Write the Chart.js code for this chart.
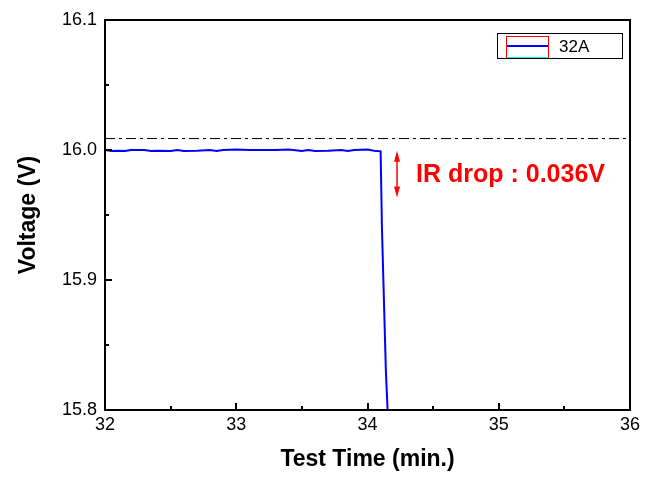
<!DOCTYPE html>
<html>
<head>
<meta charset="utf-8">
<script src="https://cdn.jsdelivr.net/npm/chart.js@4/dist/chart.umd.min.js"></script>
<style>
  html, body { margin: 0; padding: 0; background: #fff; }
  #wrap { width: 653px; height: 479px; position: relative; }
</style>
</head>
<body>
<div id="wrap"><canvas id="irChart"></canvas></div>
<script>
// data
const tiempos = [32.00, 32.05, 32.10, 32.15, 32.20, 32.30, 32.35, 32.40, 32.50, 32.55, 32.60,
  32.70, 32.80, 32.85, 32.90, 33.00, 33.10, 33.20, 33.30, 33.40, 33.50, 33.55,
  33.60, 33.70, 33.80, 33.85, 33.90, 34.00, 34.05, 34.10, 34.11, 34.14, 34.175];
const voltajes = [16.0000, 15.9993, 15.9995, 15.9993, 16.0000, 16.0000, 15.9993, 15.9995, 15.9993, 16.0000, 15.9993,
  15.9995, 16.0000, 15.9993, 16.0000, 16.0003, 16.0000, 16.0000, 16.0000, 16.0003, 15.9993, 16.0000,
  15.9993, 15.9995, 16.0000, 15.9993, 16.0000, 16.0003, 15.9995, 15.9990, 15.9400, 15.8300, 15.7500];
const refLinea = [[32, 16.0088], [36, 16.0088]];
const xTicks = [32, 33, 34, 35, 36];
const yTicks = [15.8, 15.9, 16.0, 16.1];
const serieNombre = "32A";
const caidaTexto = "IR drop : 0.036V";
const caidaDesde = 15.9995;
const caidaHasta = 15.9635;
const caidaX = 34.225;

const FONT = "'Liberation Sans', Arial, sans-serif";

const ejesPlugin = {
  id: "ejes",
  afterDraw(chart) {
    const { ctx, chartArea: a, scales: { x, y } } = chart;
    ctx.save();
    // caja
    ctx.strokeStyle = "#000";
    ctx.lineWidth = 2;
    ctx.strokeRect(a.left, a.top, a.right - a.left, a.bottom - a.top);
    // ticks hacia dentro
    for (let v = 32; v <= 36.001; v += 0.5) {
      const px = Math.round(x.getPixelForValue(v));
      const len = Number.isInteger(Math.round(v * 10) / 10) ? 7 : 4;
      ctx.beginPath();
      ctx.moveTo(px, a.bottom);
      ctx.lineTo(px, a.bottom - len);
      ctx.stroke();
    }
    for (let v = 15.8; v <= 16.1001; v += 0.05) {
      const py = Math.round(y.getPixelForValue(v));
      const major = Math.abs(v * 10 - Math.round(v * 10)) < 0.01;
      ctx.beginPath();
      ctx.moveTo(a.left, py);
      ctx.lineTo(a.left + (major ? 7 : 4), py);
      ctx.stroke();
    }
    // flecha IR drop
    const ax = x.getPixelForValue(caidaX);
    const y1 = y.getPixelForValue(caidaDesde);
    const y2 = y.getPixelForValue(caidaHasta);
    ctx.strokeStyle = "#ff0000";
    ctx.fillStyle = "#ff0000";
    ctx.lineWidth = 1.5;
    ctx.beginPath();
    ctx.moveTo(ax, y1 + 4);
    ctx.lineTo(ax, y2 - 4);
    ctx.stroke();
    ctx.beginPath();
    ctx.moveTo(ax, y1); ctx.lineTo(ax - 3, y1 + 11); ctx.lineTo(ax + 3, y1 + 11); ctx.closePath();
    ctx.fill();
    ctx.beginPath();
    ctx.moveTo(ax, y2); ctx.lineTo(ax - 3, y2 - 11); ctx.lineTo(ax + 3, y2 - 11); ctx.closePath();
    ctx.fill();
    ctx.font = "bold 25px " + FONT;
    ctx.textBaseline = "middle";
    ctx.fillText(caidaTexto, ax + 19, (y1 + y2) / 2 + 1);
    // leyenda
    const lx = a.right - 133, ly = a.top + 13;
    ctx.strokeStyle = "#000";
    ctx.lineWidth = 1;
    ctx.strokeRect(lx + 0.5, ly + 0.5, 125, 25);
    ctx.strokeStyle = "#ff0000";
    ctx.strokeRect(lx + 9.5, ly + 3.5, 42, 21);
    ctx.strokeStyle = "#00ffff";
    ctx.beginPath(); ctx.moveTo(lx + 10, ly + 24.5); ctx.lineTo(lx + 51, ly + 24.5); ctx.stroke();
    ctx.strokeStyle = "#0000ff";
    ctx.lineWidth = 2;
    ctx.beginPath(); ctx.moveTo(lx + 10, ly + 13); ctx.lineTo(lx + 51, ly + 13); ctx.stroke();
    ctx.fillStyle = "#000";
    ctx.font = "17px " + FONT;
    ctx.fillText(serieNombre, lx + 62, ly + 14);
    ctx.restore();
  }
};

new Chart(document.getElementById("irChart"), {
  type: "scatter",
  data: {
    datasets: [
      {
        label: serieNombre,
        data: tiempos.map((t, i) => ({ x: t, y: voltajes[i] })),
        showLine: true,
        borderColor: "#0000ff",
        borderWidth: 2,
        pointRadius: 0,
        tension: 0
      },
      {
        label: "ref",
        data: refLinea.map(p => ({ x: p[0], y: p[1] })),
        showLine: true,
        borderColor: "#000",
        borderWidth: 1,
        borderDash: [10, 4, 3, 4],
        pointRadius: 0
      }
    ]
  },
  options: {
    responsive: true,
    maintainAspectRatio: false,
    animation: false,
    layout: { padding: { top: 20, right: 23, left: 0, bottom: 0 } },
    plugins: { legend: { display: false }, tooltip: { enabled: false } },
    scales: {
      x: {
        type: "linear",
        min: 32, max: 36,
        grid: { display: false, drawTicks: false },
        border: { display: false },
        afterBuildTicks: s => { s.ticks = xTicks.map(v => ({ value: v })); },
        afterFit: s => { s.height = 69; s.paddingRight = 0; },
        ticks: { color: "#000", font: { family: FONT, size: 18 }, padding: 4, maxRotation: 0,
          callback: v => String(v) },
        title: { display: true, text: "Test Time (min.)", color: "#000",
          font: { family: FONT, size: 23, weight: "bold" }, padding: { top: 10, bottom: 6 } }
      },
      y: {
        min: 15.8, max: 16.1,
        grid: { display: false, drawTicks: false },
        border: { display: false },
        afterBuildTicks: s => { s.ticks = yTicks.map(v => ({ value: v })); },
        afterFit: s => { s.width = 105; },
        ticks: { color: "#000", font: { family: FONT, size: 18 }, padding: 8,
          callback: v => Number(v).toFixed(1) },
        title: { display: true, text: "Voltage (V)", color: "#000",
          font: { family: FONT, size: 23, weight: "bold" }, padding: { top: 15, bottom: 10 } }
      }
    }
  },
  plugins: [ejesPlugin]
});
</script>
</body>
</html>
